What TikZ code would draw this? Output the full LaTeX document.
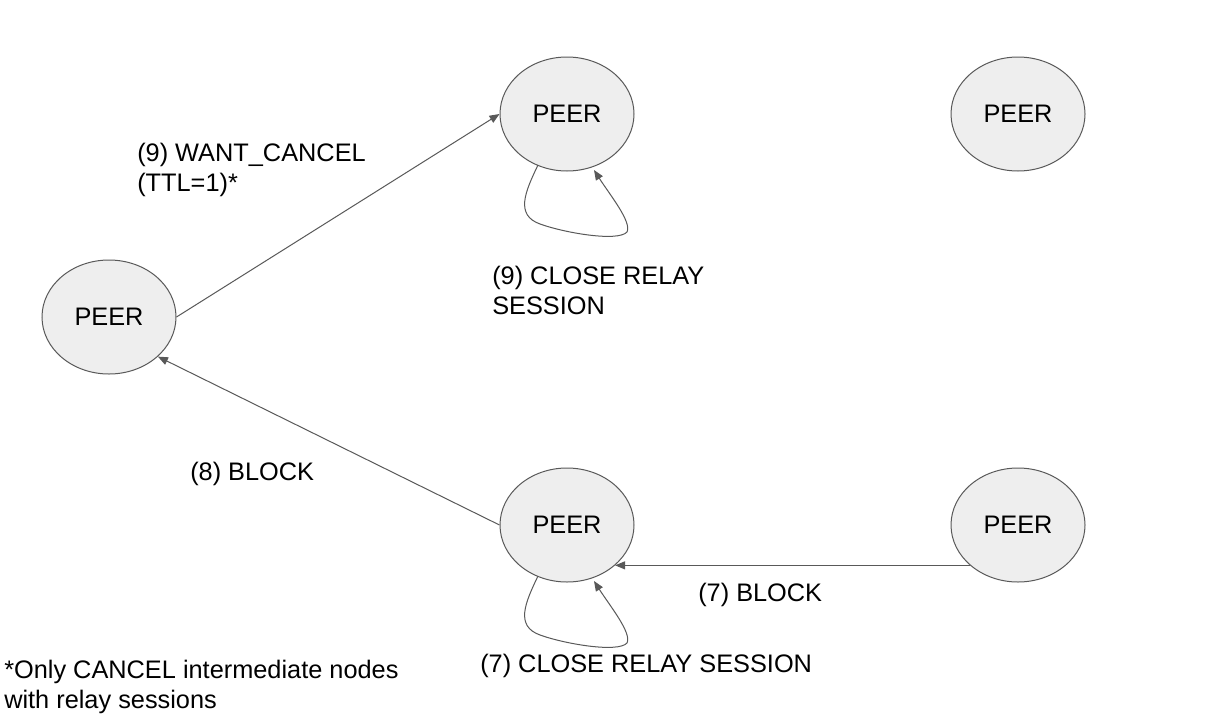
\documentclass[tikz,border=0pt]{standalone}
\usepackage{fontspec}
\setmainfont{Liberation Sans}
\usetikzlibrary{arrows.meta,shapes.geometric}
\definecolor{edgec}{HTML}{595959}
\definecolor{fillc}{HTML}{EEEEEE}
\begin{document}
\begin{tikzpicture}[x=0.75pt,y=-0.75pt,
  peer/.style={ellipse,draw=edgec,fill=fillc,line width=0.75pt,minimum width=100.5pt,minimum height=85.5pt,inner sep=0pt,font=\fontsize{19}{22.5}\selectfont},
  lbl/.style={inner sep=0pt,align=left,anchor=west,font=\fontsize{19}{22.5}\selectfont},
  arr/.style={draw=edgec,line width=0.75pt,-{Triangle[length=7.5pt,width=6pt]}}]
\useasboundingbox[fill=white] (0,0) rectangle (1227,714);
\node[peer] (p1) at (109,317) {PEER};
\node[peer] (p2) at (567,114) {PEER};
\node[peer] (p3) at (1018,114) {PEER};
\node[peer] (p4) at (567,525) {PEER};
\node[peer] (p5) at (1018,525) {PEER};
\draw[arr] (p1.east) -- (p2.west);
\draw[arr] (p4.west) -- (p1.-39);
\draw[arr] (p5.220) -- (p4.320);
\coordinate (s2) at (538,165);
\coordinate (e2) at (594,170);
\draw[arr] (s2) .. controls (525,192) and (515,215) .. (540,224)
  .. controls (565,233) and (618,242) .. (627,232)
  .. controls (632,222) and (610,195) .. (e2);
\coordinate (s4) at (538,576);
\coordinate (e4) at (594,581);
\draw[arr] (s4) .. controls (525,603) and (515,626) .. (540,635)
  .. controls (565,644) and (618,653) .. (627,643)
  .. controls (632,633) and (610,606) .. (e4);
\node[lbl] (l1) at (137,170) {(9) WANT\_CANCEL\\(TTL=1)*};
\node[lbl] (l2) at (492,290) {(9) CLOSE RELAY\\SESSION};
\node[lbl] (l3) at (190,474) {(8) BLOCK};
\node[lbl] (l4) at (698,595) {(7) BLOCK};
\node[lbl] (l5) at (480,666) {(7) CLOSE RELAY SESSION};
\node[lbl] (l6) at (4,687) {*Only CANCEL intermediate nodes\\with relay sessions};
\end{tikzpicture}
\end{document}
